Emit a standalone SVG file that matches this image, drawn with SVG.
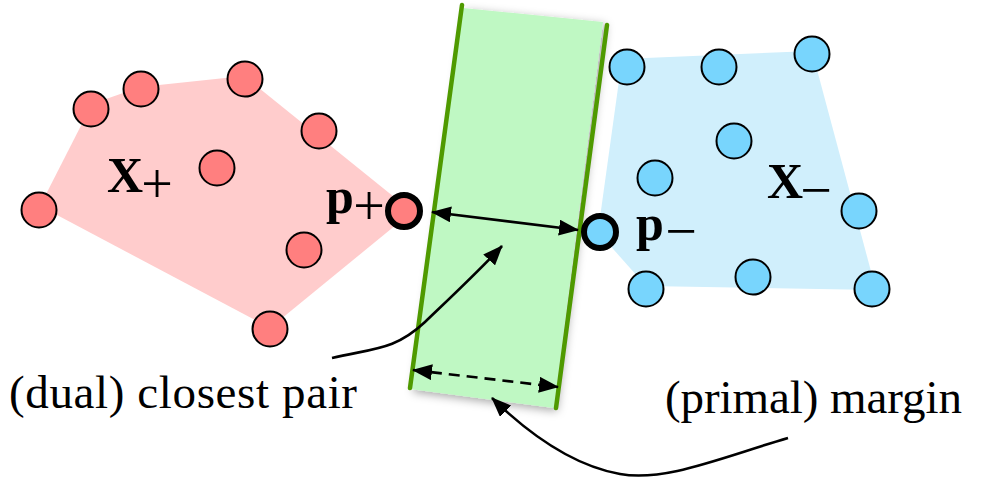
<svg xmlns="http://www.w3.org/2000/svg" width="984" height="477" viewBox="0 0 984 477">
<style>
.red{fill:#ff7f7f;stroke:#000;stroke-width:2}
.blue{fill:#78d5fd;stroke:#000;stroke-width:2}
.key{stroke-width:6}
.gline{stroke:#4f9a00;stroke-width:4.5;stroke-linecap:round;fill:none}
.conn{stroke:#000;stroke-width:2.6;fill:none}
.lbl{font-family:"Liberation Serif",serif;font-size:47px;fill:#000}
.math{font-family:"Liberation Serif",serif;font-weight:bold;font-size:50px;fill:#000}
.sub{font-family:"Liberation Serif",serif;font-size:56px;fill:#000;text-anchor:middle}
</style>
<defs>
<marker id="ah" markerUnits="userSpaceOnUse" markerWidth="20" markerHeight="16" refX="19" refY="8" orient="auto-start-reverse">
<path d="M0,0 L20,8 L0,16 z" fill="#000"/>
</marker>
<filter id="sh" x="-30%" y="-10%" width="160%" height="120%">
<feDropShadow dx="3" dy="3" stdDeviation="5" flood-color="#000" flood-opacity="0.35"/>
</filter>
</defs>

<g id="hull-plus">
<polygon points="40,206 92,104 140,87 244,76 404,205 402,220 270,328" fill="#ffcccc"/>
</g>
<g id="hull-minus">
<polygon points="622,59 812,51 876,290 646,286 598,232" fill="#d0effc"/>
</g>

<g id="margin-band">
<polygon points="463,8 603,22 554,408 410,389" fill="#bff8c3" filter="url(#sh)"/>
<line class="gline" x1="462" y1="5" x2="410" y2="388"/>
<line class="gline" x1="607" y1="25" x2="556" y2="408"/>
</g>

<g id="points-plus">
<circle class="red" cx="39" cy="210" r="17.5"/>
<circle class="red" cx="91" cy="109" r="17.5"/>
<circle class="red" cx="141" cy="89" r="17.5"/>
<circle class="red" cx="245" cy="79" r="17.5"/>
<circle class="red" cx="319" cy="131" r="17.5"/>
<circle class="red" cx="217" cy="168" r="17.5"/>
<circle class="red" cx="304" cy="250" r="17.5"/>
<circle class="red" cx="270" cy="329" r="17.5"/>
</g>
<g id="p-plus">
<circle class="red key" cx="404" cy="211" r="16"/>
</g>

<g id="points-minus">
<circle class="blue" cx="627" cy="67" r="17.5"/>
<circle class="blue" cx="719" cy="67" r="17.5"/>
<circle class="blue" cx="812" cy="54" r="17.5"/>
<circle class="blue" cx="734" cy="141" r="17.5"/>
<circle class="blue" cx="655" cy="178" r="17.5"/>
<circle class="blue" cx="859" cy="211" r="17.5"/>
<circle class="blue" cx="646" cy="289" r="17.5"/>
<circle class="blue" cx="753" cy="277" r="17.5"/>
<circle class="blue" cx="872" cy="289" r="17.5"/>
</g>
<g id="p-minus">
<circle class="blue key" cx="600" cy="232" r="16"/>
</g>

<g id="connectors">
<line class="conn" x1="432" y1="212" x2="578" y2="230" marker-start="url(#ah)" marker-end="url(#ah)"/>
<line class="conn" x1="413" y1="370" x2="558" y2="387" stroke-width="3" stroke-dasharray="11,7" marker-start="url(#ah)" marker-end="url(#ah)"/>
<path class="conn" d="M332,358 C375,348 395,350 425,322 C450,298 480,270 502,246" marker-end="url(#ah)"/>
<path class="conn" d="M788,438 C720,458 665,482 620,474 C575,466 530,435 492,398" marker-end="url(#ah)"/>
</g>

<g id="labels">
<text class="math" x="107" y="192">X</text>
<text class="sub" x="157" y="203">+</text>
<text class="math" x="326" y="213">p</text>
<text class="sub" x="369" y="225">+</text>
<text class="math" x="767" y="198">X</text>
<text class="sub" x="816" y="209">−</text>
<text class="math" x="636" y="240">p</text>
<text class="sub" x="681" y="250">−</text>
<text class="lbl" x="9" y="408" textLength="348" lengthAdjust="spacing">(dual) closest pair</text>
<text class="lbl" x="665" y="413" textLength="297" lengthAdjust="spacing">(primal) margin</text>
</g>
</svg>
